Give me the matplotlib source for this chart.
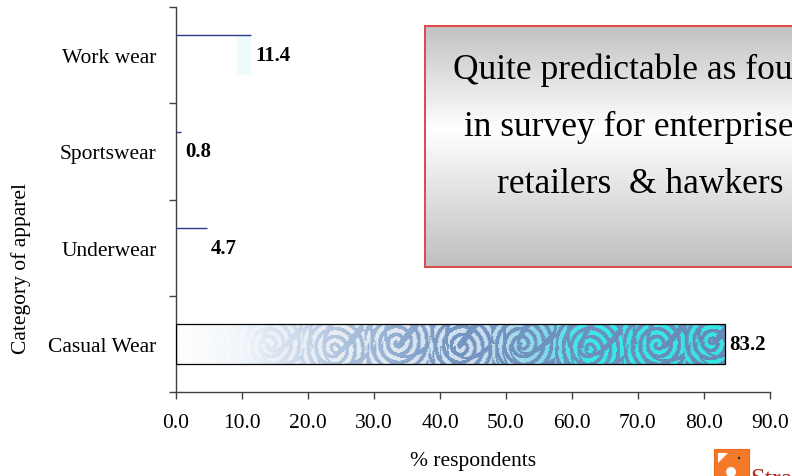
import numpy as np
import matplotlib
matplotlib.use("Agg")
import matplotlib.pyplot as plt
from matplotlib.patches import Rectangle, Polygon, Circle

# ---- data ----
categories = ["Casual Wear", "Underwear", "Sportswear", "Work wear"]
values = [83.2, 4.7, 0.8, 11.4]
x_ticks = [0, 10, 20, 30, 40, 50, 60, 70, 80, 90]
x_label = "% respondents"
y_label = "Category of apparel"
note_lines = ["Quite predictable as found", "in survey for enterprises,", "retailers  & hawkers"]

SERIF = "Liberation Serif"
FS = 15.5
W_PX, H_PX = 792, 477

fig = plt.figure(figsize=(W_PX / 100, H_PX / 100), dpi=100)
fig.patch.set_facecolor("white")


def fx(px):
    return px / W_PX


def fy(py):
    return 1 - py / H_PX


ax = fig.add_axes([fx(176), fy(393), fx(770) - fx(176), fy(8) - fy(393)])


def swirl_texture(w=560, h=40):
    """Fingerprint-like swirl texture fading from white to steel blue and cyan."""
    xx = np.arange(w)[None, :].astype(float)
    yy = np.arange(h)[:, None].astype(float)
    cx = [28, 95, 160, 225, 290, 352, 420, 490, 545]
    cy = [22, 20, 24, 18, 22, 20, 24, 20, 18]
    best = np.full((h, w), np.inf)
    phase = np.zeros((h, w))
    dash = np.ones((h, w))
    for i, (a, b) in enumerate(zip(cx, cy)):
        d = np.hypot(xx - a, yy - b)
        th = np.arctan2(yy - b, xx - a)
        ph = 2 * np.pi * d / 8.0 - th * (1 if i % 2 == 0 else -1)
        ds = np.sin(th * np.maximum(d, 1) / 4.5 + 1.3 * i + d * 0.2)
        sel = d < best
        best = np.where(sel, d, best)
        phase = np.where(sel, ph, phase)
        dash = np.where(sel, ds, dash)
    mask = ((np.sin(phase) > -0.05) & (dash > -0.75)).astype(float)
    t = xx / (w - 1) * np.ones((h, w))

    def ramp(stops):
        pos = [s[0] for s in stops]
        out = np.zeros((h, w, 3))
        for c in range(3):
            out[..., c] = np.interp(t, pos, [s[1][c] for s in stops])
        return out

    base = ramp([(0.0, (1, 1, 1)), (0.12, (0.94, 0.96, 0.98)), (0.32, (0.66, 0.75, 0.86)),
                 (0.5, (0.46, 0.59, 0.76)), (1.0, (0.40, 0.54, 0.73))])
    swirl = ramp([(0.0, (1, 1, 1)), (0.3, (0.93, 0.94, 0.96)), (0.55, (0.82, 0.88, 0.94)),
                  (0.66, (0.55, 0.86, 0.92)), (0.74, (0.22, 0.93, 0.92)), (1.0, (0.20, 0.92, 0.88))])
    strength = np.interp(t, [0, 0.15, 0.3, 1], [0.2, 0.7, 0.95, 0.95])
    m = (mask * strength)[..., None]
    return base * (1 - m) + swirl * m


ypos = np.arange(len(categories))
bar_h = 0.41
navy = "#2f3a86"

bars = ax.barh(ypos, values, height=bar_h, color="white", edgecolor="none", zorder=2)
tex = swirl_texture()
for b, v in zip(bars, values):
    y0 = b.get_y()
    if v > 50:
        ax.imshow(tex, extent=[0, v, y0, y0 + bar_h], aspect="auto", origin="upper",
                  interpolation="bilinear", zorder=2)
        ax.add_patch(Rectangle((0, y0), v, bar_h, fill=False, edgecolor="black",
                               linewidth=0.9, zorder=3))
    else:
        ax.hlines(y0 + bar_h, 0, v, color=navy, linewidth=1.0, zorder=3)
        if v > 10:
            ax.add_patch(Rectangle((v - 2.2, y0), 2.2, bar_h, facecolor="#e6fafb",
                                   edgecolor="none", alpha=0.7, zorder=2))
    ax.annotate(f"{v:.1f}", xy=(v, y0 + bar_h / 2), xytext=(3, 0), textcoords="offset points",
                ha="left", va="center", fontsize=FS - 0.5, fontweight="bold",
                family=SERIF, color="black", zorder=4)

ax.set_xlim(0, 90)
ax.set_ylim(-0.5, len(categories) - 0.5)
ax.set_xticks(x_ticks)
ax.set_xticklabels([f"{t:.1f}" for t in x_ticks], family=SERIF, fontsize=FS)
ax.set_yticks(np.arange(-0.5, len(categories), 1.0))
ax.set_yticklabels([])
ax.set_yticks(ypos, minor=True)
ax.set_yticklabels(categories, minor=True, family=SERIF, fontsize=FS)
ax.tick_params(axis="y", which="minor", length=0, pad=14)
ax.tick_params(axis="y", which="major", direction="out", length=5, width=1, color="#404040")
ax.tick_params(axis="x", direction="out", length=5, width=1, color="#404040", pad=10)
for s in ("top", "right"):
    ax.spines[s].set_visible(False)
for s in ("left", "bottom"):
    ax.spines[s].set_color("#404040")
    ax.spines[s].set_linewidth(1.0)

fig.text(fx(473), fy(462), x_label, ha="center", va="center", family=SERIF, fontsize=FS)
fig.text(fx(21), fy(269), y_label, ha="center", va="center", rotation=90,
         family=SERIF, fontsize=FS)

# ---- note box with grey-white-grey gradient ----
box_l, box_t, box_r, box_b = 425, 27, 855, 268
bax = fig.add_axes([fx(box_l), fy(box_b), fx(box_r) - fx(box_l), fy(box_t) - fy(box_b)])
gy = np.linspace(0, 1, 256)
g = np.interp(gy, [0, 0.43, 1], [0.76, 1.0, 0.75])
grad = np.repeat(g[:, None], 4, axis=1)
bax.imshow(np.dstack([grad, grad, grad]), extent=[0, 1, 0, 1], aspect="auto",
           origin="upper", interpolation="bilinear")
bax.set_xlim(0, 1)
bax.set_ylim(0, 1)
bax.set_xticks([])
bax.set_yticks([])
for s in bax.spines.values():
    s.set_color("#e04848")
    s.set_linewidth(1.4)

for line, base_y in zip(note_lines, [79, 136, 193]):
    fig.text(fx(640), fy(base_y), line, ha="center", va="baseline", family=SERIF,
             fontsize=25.5, color="black")

# ---- small corner logo ----
lax = fig.add_axes([0, 0, 1, 1], facecolor="none")
lax.set_xlim(0, W_PX)
lax.set_ylim(H_PX, 0)
lax.axis("off")
lax.add_patch(Rectangle((714, 450), 35, 40, facecolor="#f47a2a", edgecolor="#e86a1a", linewidth=0.8))
lax.add_patch(Polygon([(718, 454), (728, 454), (718, 464)], closed=True, facecolor="white", edgecolor="none"))
lax.add_patch(Circle((739, 459), 1.3, facecolor="#303030", edgecolor="none"))
lax.add_patch(Circle((731, 473), 5, facecolor="white", edgecolor="none"))
lax.text(750, 486, "Strategic", ha="left", va="baseline", family=SERIF, fontsize=19,
         color="#b02a20")

fig.savefig("out.png", dpi=100)
